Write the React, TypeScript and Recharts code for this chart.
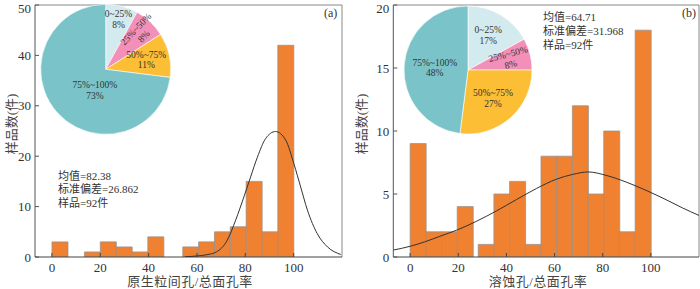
import React from 'react'
import {
  BarChart,
  Bar,
  XAxis,
  YAxis,
  LineChart,
  Line,
  PieChart,
  Pie,
  Cell,
  ReferenceLine,
} from 'recharts'

const FONT = '"Liberation Serif", "Times New Roman", "Noto Sans CJK SC", serif'
const RAD = Math.PI / 180

const xTicks = [0, 20, 40, 60, 80, 100]
const xDomain: [number, number] = [-7, 120]
const pieNames = ['0~25%', '25%~50%', '50%~75%', '75%~100%']
const pieColors = ['#d3eaee', '#f290b9', '#fbbe35', '#7ac3c8']

// (a) 原生粒间孔
const binsA = [3.3, 16.75, 23.3, 29.85, 36.4, 42.95, 57.42, 63.97, 70.52, 77.07, 83.62, 90.17, 96.72]
const countsA = [3, 1, 3, 2, 1, 4, 2, 3, 5, 6, 15, 5, 42]
const curveXA = [55, 60, 64, 68, 72.5, 76, 79.4, 82.2, 85, 88.4, 92.5, 96.7, 100.1, 102.9, 105.7, 109.8, 114, 119.5]
const curveYA = [0.05, 0.2, 0.45, 1.0, 3.3, 7.3, 11.9, 15.9, 19.8, 23.5, 24.9, 23.2, 18.5, 13.9, 9.3, 4.6, 2.0, 0.5]
const yTicksA = [0, 10, 20, 30, 40, 50]
const pieA = [8, 8, 11, 73]
const statsA = ['均值=82.38', '标准偏差=26.862', '样品=92件']

// (b) 溶蚀孔
const binsB = [3.26, 9.78, 16.3, 22.82, 31.54, 38.06, 44.58, 51.1, 57.62, 64.14, 70.66, 77.18, 83.7, 90.22, 96.74]
const countsB = [9, 2, 2, 4, 1, 5, 6, 1, 8, 8, 12, 5, 10, 2, 18]
const curveXB = [-7, 0, 6, 12.3, 19.2, 27.5, 35.8, 44.1, 52.4, 60.7, 67.6, 74, 81.4, 89.7, 98, 106.3, 113.1, 120]
const curveYB = [0.55, 0.85, 1.2, 1.64, 2.12, 2.83, 3.65, 4.55, 5.43, 6.17, 6.56, 6.75, 6.48, 5.95, 5.29, 4.55, 3.9, 3.3]
const yTicksB = [0, 5, 10, 15, 20]
const pieB = [17, 8, 27, 48]
const statsB = ['均值=64.71', '标准偏差=31.968', '样品=92件']

const W = 350
const H = 289

const tickStyle = { fontSize: 13, fill: '#333', fontFamily: FONT }

function makePieLabel(radius: number[], shift: number[]) {
  return (props: any) => {
    const { cx, cy, midAngle, outerRadius, index, value } = props
    const ang = midAngle + shift[index]
    const r = outerRadius * radius[index]
    const x = cx + r * Math.cos(-ang * RAD)
    const y = cy + r * Math.sin(-ang * RAD)
    const rot = index === 1 ? -midAngle : 0
    return (
      <text
        x={x}
        y={y}
        textAnchor="middle"
        fontSize={9.5}
        fontFamily={FONT}
        fill="#333"
        transform={`rotate(${rot} ${x} ${y})`}
      >
        <tspan x={x} dy="-0.25em">{pieNames[index]}</tspan>
        <tspan x={x} dy="1.12em">{value}%</tspan>
      </text>
    )
  }
}

interface PanelProps {
  left: number
  marginLeft: number
  marginRight: number
  bins: number[]
  counts: number[]
  curveX: number[]
  curveY: number[]
  yTicks: number[]
  pie: number[]
  pieCx: number
  pieCy: number
  pieR: number
  labelRadius: number[]
  labelShift: number[]
  stats: string[]
  statsLeft: number
  statsTop: number
  statsLine: number
  tag: string
  tagLeft: number
  xLabel: string
  xLabelCenter: number
}

function Panel(p: PanelProps) {
  const yMax = p.yTicks[p.yTicks.length - 1]
  const barData = p.bins.map((x, i) => ({ x, count: p.counts[i] }))
  const curveData = p.curveX.map((x, i) => ({ x, y: p.curveY[i] }))
  const pieData = pieNames.map((name, i) => ({ name, value: p.pie[i] }))
  const margin = { top: 5, right: p.marginRight, bottom: 0, left: p.marginLeft }
  const abs: React.CSSProperties = { position: 'absolute', left: 0, top: 0 }

  return (
    <div style={{ position: 'absolute', left: p.left, top: 0, width: W, height: H, fontFamily: FONT }}>
      <div style={abs}>
        <BarChart width={W} height={H} data={barData} margin={margin} barCategoryGap={0} barGap={0}>
          <XAxis
            type="number"
            dataKey="x"
            domain={xDomain}
            ticks={xTicks}
            allowDataOverflow
            height={32}
            tick={tickStyle}
            tickSize={-4}
            tickMargin={10}
            axisLine={{ stroke: '#444' }}
            tickLine={{ stroke: '#444' }}
          />
          <YAxis
            type="number"
            domain={[0, yMax]}
            ticks={p.yTicks}
            allowDataOverflow
            width={30}
            tick={tickStyle}
            tickSize={-4}
            tickMargin={8}
            axisLine={{ stroke: '#555' }}
            tickLine={{ stroke: '#555' }}
          />
          <ReferenceLine y={yMax} stroke="#888" ifOverflow="extendDomain" />
          <ReferenceLine x={xDomain[1]} stroke="#888" ifOverflow="extendDomain" />
          <Bar dataKey="count" fill="#ef8130" stroke="#9b928a" strokeWidth={0.8} isAnimationActive={false} />
        </BarChart>
      </div>
      <div style={abs}>
        <LineChart width={W} height={H} data={curveData} margin={{ ...margin, left: p.marginLeft + 30, bottom: 32 }}>
          <XAxis type="number" dataKey="x" domain={xDomain} allowDataOverflow hide />
          <YAxis type="number" domain={[0, yMax]} allowDataOverflow hide />
          <Line
            type="monotone"
            dataKey="y"
            stroke="#333"
            strokeWidth={1}
            dot={false}
            isAnimationActive={false}
          />
        </LineChart>
      </div>
      <div style={abs}>
        <PieChart width={W} height={H} margin={{ top: 0, right: 0, bottom: 0, left: 0 }}>
          <Pie
            data={pieData}
            dataKey="value"
            nameKey="name"
            cx={p.pieCx}
            cy={p.pieCy}
            outerRadius={p.pieR}
            startAngle={90}
            endAngle={-270}
            stroke="#fff"
            strokeWidth={0.6}
            labelLine={false}
            label={makePieLabel(p.labelRadius, p.labelShift)}
            isAnimationActive={false}
          >
            {pieData.map((d, i) => (
              <Cell key={d.name} fill={pieColors[i]} />
            ))}
          </Pie>
        </PieChart>
      </div>
      <div
        style={{
          position: 'absolute',
          left: p.statsLeft,
          top: p.statsTop,
          fontSize: 11,
          lineHeight: `${p.statsLine}px`,
          color: '#333',
          whiteSpace: 'nowrap',
        }}
      >
        {p.stats.map((s) => (
          <div key={s}>{s}</div>
        ))}
      </div>
      <div style={{ position: 'absolute', left: p.tagLeft, top: 5, fontSize: 12, lineHeight: '16px', color: '#333' }}>
        {p.tag}
      </div>
      <div
        style={{
          position: 'absolute',
          left: p.xLabelCenter - 100,
          top: 274,
          width: 200,
          textAlign: 'center',
          fontSize: 13,
          lineHeight: '16px',
          color: '#444',
          letterSpacing: 0.5,
        }}
      >
        {p.xLabel}
      </div>
      <div
        style={{
          position: 'absolute',
          left: p.left === 0 ? 12 - 60 : 12 - 60,
          top: 124 - 8,
          width: 120,
          height: 16,
          textAlign: 'center',
          fontSize: 13,
          lineHeight: '16px',
          color: '#444',
          transform: 'rotate(-90deg)',
        }}
      >
        样品数(件)
      </div>
    </div>
  )
}

export default function App() {
  return (
    <div style={{ position: 'absolute', left: 0, top: 0, width: 700, height: 289, background: '#fff' }}>
      <Panel
        left={0}
        marginLeft={5}
        marginRight={8}
        bins={binsA}
        counts={countsA}
        curveX={curveXA}
        curveY={curveYA}
        yTicks={yTicksA}
        pie={pieA}
        pieCx={105.7}
        pieCy={69.3}
        pieR={65}
        labelRadius={[0.79, 0.77, 0.64, 0.37]}
        labelShift={[0, 0, 0, 22]}
        stats={statsA}
        statsLeft={58}
        statsTop={170}
        statsLine={13.3}
        tag="(a)"
        tagLeft={324}
        xLabel="原生粒间孔/总面孔率"
        xLabelCenter={190}
      />
      <Panel
        left={350}
        marginLeft={13.3}
        marginRight={1}
        bins={binsB}
        counts={countsB}
        curveX={curveXB}
        curveY={curveYB}
        yTicks={yTicksB}
        pie={pieB}
        pieCx={118}
        pieCy={70}
        pieR={64}
        labelRadius={[0.62, 0.67, 0.59, 0.52]}
        labelShift={[0, 0, 0, 0]}
        stats={statsB}
        statsLeft={193}
        statsTop={10}
        statsLine={14.2}
        tag="(b)"
        tagLeft={332}
        xLabel="溶蚀孔/总面孔率"
        xLabelCenter={188}
      />
    </div>
  )
}
